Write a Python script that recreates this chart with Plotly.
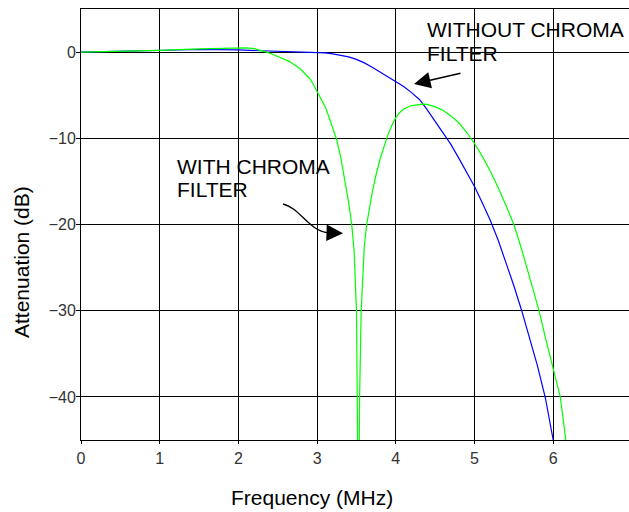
import plotly.graph_objects as go

# ---- data ----
freq_without = [0, 0.5, 1.0, 1.5, 2.0, 2.5, 2.8, 3.0, 3.1, 3.2, 3.3, 3.4, 3.5, 3.6, 3.7, 3.8, 3.9,
                4.0, 4.1, 4.2, 4.3, 4.4, 4.5, 4.6, 4.7, 4.8, 4.9, 5.0, 5.1, 5.2, 5.3, 5.4, 5.5,
                5.6, 5.7, 5.8, 5.9, 5.95, 6.0]
atten_without = [0, 0.12, 0.25, 0.3, 0.25, 0.12, 0.02, -0.05, -0.1, -0.2, -0.35, -0.55, -0.85,
                 -1.25, -1.75, -2.3, -2.85, -3.4, -4.0, -4.7, -5.5, -6.7, -8.0, -9.3, -10.7,
                 -12.3, -13.9, -15.6, -17.5, -19.5, -21.8, -24.4, -27.1, -30.0, -33.1, -36.4,
                 -40.1, -42.5, -45.0]

freq_with = [0, 0.5, 1.0, 1.5, 1.8, 2.0, 2.1, 2.2, 2.3, 2.36, 2.45, 2.55, 2.65, 2.78, 2.85, 2.9,
             2.95, 3.0, 3.05, 3.1, 3.15, 3.21, 3.25, 3.3, 3.35, 3.4, 3.44, 3.47, 3.5, 3.52,
             3.525, 3.53, 3.535, 3.54, 3.56, 3.6, 3.63, 3.7, 3.75, 3.8, 3.85, 3.9, 3.95, 4.0,
             4.05, 4.1, 4.2, 4.3, 4.35, 4.4, 4.5, 4.6, 4.7, 4.8, 4.9, 5.0, 5.1, 5.2, 5.3, 5.4,
             5.5, 5.6, 5.7, 5.82, 5.9, 6.0, 6.09, 6.16]
atten_with = [0, 0.08, 0.2, 0.38, 0.48, 0.53, 0.5, 0.4, 0.2, 0.0, -0.3, -0.7, -1.1, -1.9, -2.5,
              -3.0, -3.7, -4.6, -5.4, -6.3, -7.5, -9.0, -10.2, -12.2, -14.6, -17.4, -20.0,
              -23.0, -30.0, -40.0, -46.0, -60.0, -46.0, -40.0, -30.0, -22.5, -20.0, -16.3,
              -14.2, -12.4, -11.0, -9.6, -8.5, -7.6, -7.0, -6.6, -6.2, -6.05, -6.04, -6.06,
              -6.35, -6.75, -7.4, -8.2, -9.3, -10.6, -12.1, -13.8, -15.7, -17.8, -20.0, -22.9,
              -26.0, -30.0, -33.1, -36.6, -40.0, -45.0]

x_ticks = [0, 1, 2, 3, 4, 5, 6]
y_ticks = [0, -10, -20, -30, -40]

# ---- layout geometry ----
W, H = 629, 512
ML, MR, MT, MB = 81, 0, 9, 72
XR = [0, 6.963]
YR = [-45, 5]
pw, ph = W - ML - MR, H - MT - MB


def px2x(px):
    return XR[0] + (px - ML) / pw * (XR[1] - XR[0])


def py2y(py):
    return YR[1] - (py - MT) / ph * (YR[1] - YR[0])


fig = go.Figure()
fig.add_trace(go.Scatter(x=freq_without, y=atten_without, mode="lines",
                         line=dict(color="#0000ff", width=1.2), name="without"))
fig.add_trace(go.Scatter(x=freq_with, y=atten_with, mode="lines",
                         line=dict(color="#00ff00", width=1.2), name="with"))

txt_font = dict(family="Liberation Sans, Arial", size=21, color="#000000")
tick_font = dict(family="Liberation Sans, Arial", size=16, color="#333333")

annotations = []


def label(text, px, py_base):
    annotations.append(dict(text=text, x=px2x(px), y=py2y(py_base), xref="x", yref="y",
                            xanchor="left", yanchor="bottom", showarrow=False, font=txt_font,
                            yshift=-5))


label("WITHOUT CHROMA", 425, 37.7)
label("FILTER", 425, 61.7)
label("WITH CHROMA", 175, 175)
label("FILTER", 175, 198)

# straight arrow
annotations.append(dict(text="", x=px2x(414), y=py2y(84), xref="x", yref="y",
                        ax=48, ay=-11, showarrow=True, arrowhead=2, arrowsize=2.2,
                        arrowwidth=1.5, arrowcolor="#000000"))
# head of curved arrow
annotations.append(dict(text="", x=px2x(343), y=py2y(233.3), xref="x", yref="y",
                        ax=-16, ay=-0.5, showarrow=True, arrowhead=2, arrowsize=2.2,
                        arrowwidth=1.5, arrowcolor="#000000"))

# axis titles (placed as annotations)
annotations.append(dict(text="Frequency (MHz)", xref="paper", yref="paper",
                        x=(312 - ML) / pw, y=(H - MB - 497) / ph,
                        xanchor="center", yanchor="middle", showarrow=False, font=txt_font))
annotations.append(dict(text="Attenuation (dB)", textangle=-90, xref="paper", yref="paper",
                        x=(21 - ML) / pw, y=(H - MB - 262) / ph,
                        xanchor="center", yanchor="middle", showarrow=False, font=txt_font))

shapes = [dict(type="path", xref="x", yref="y", line=dict(color="#000000", width=1.3),
               path=(f"M {px2x(283)},{py2y(204)} C {px2x(300)},{py2y(208)} "
                     f"{px2x(309)},{py2y(231)} {px2x(328)},{py2y(232.8)}"))]

fig.update_layout(
    width=W, height=H, margin=dict(l=ML, r=MR, t=MT, b=MB, pad=0),
    paper_bgcolor="white", plot_bgcolor="white", showlegend=False,
    annotations=annotations, shapes=shapes,
    xaxis=dict(range=XR, tickvals=x_ticks, showgrid=True, gridcolor="#000000", gridwidth=1,
               showline=True, linecolor="#000000", linewidth=1, mirror=True, zeroline=False,
               ticks="outside", ticklen=3, tickcolor="#000000", tickfont=tick_font,
               ticklabelstandoff=1),
    yaxis=dict(range=YR, tickvals=y_ticks, showgrid=True, gridcolor="#000000", gridwidth=1,
               showline=True, linecolor="#000000", linewidth=1, mirror=False, zeroline=False,
               ticks="outside", ticklen=4, tickcolor="#000000", tickfont=tick_font,
               ticklabelstandoff=-3),
)

fig.write_html("out.html", config={"displayModeBar": False},
               post_script="document.body.style.margin='0';document.body.style.overflow='hidden';")
